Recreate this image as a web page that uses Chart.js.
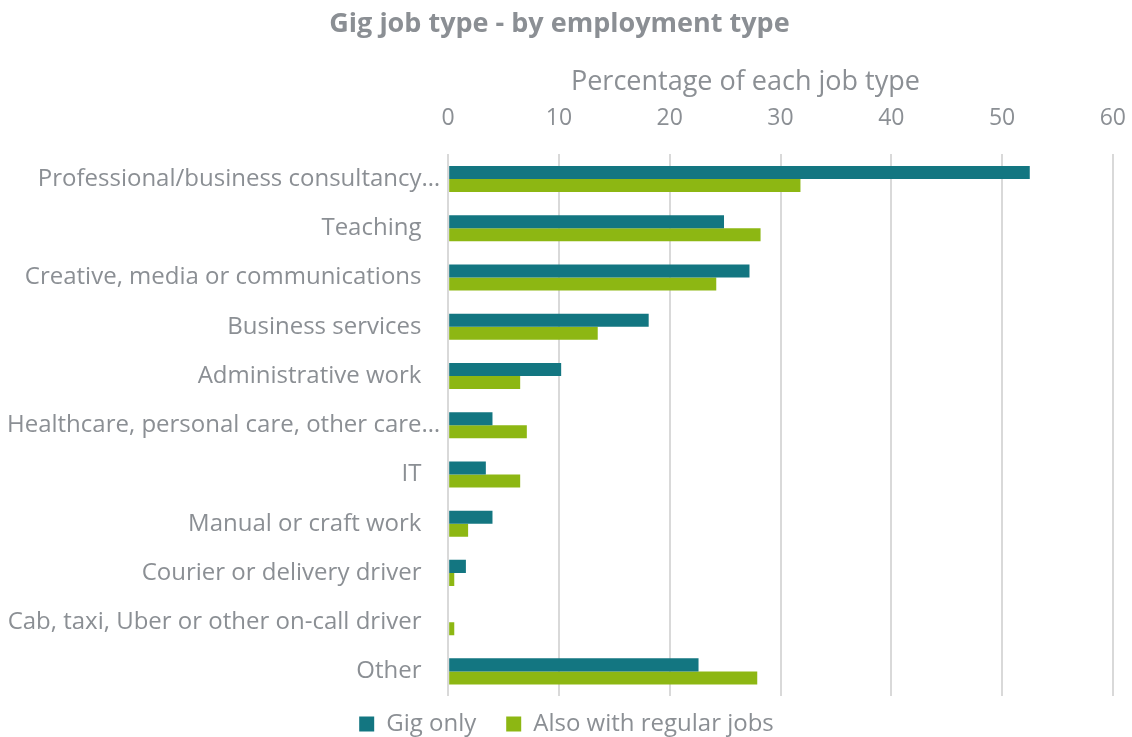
<!DOCTYPE html>
<html>
<head>
<meta charset="utf-8">
<script src="https://cdn.jsdelivr.net/npm/chart.js@4.4.1/dist/chart.umd.min.js"></script>
<style>
  html, body { margin: 0; padding: 0; background: #ffffff; overflow: hidden; }
  #wrap { width: 1132px; height: 737px; }
</style>
</head>
<body>
<div id="wrap"><canvas id="grafik" width="1132" height="737"></canvas></div>
<script>
const CATEGORIES = [
    'Professional/business consultancy…',
    'Teaching',
    'Creative, media or communications',
    'Business services',
    'Administrative work',
    'Healthcare, personal care, other care…',
    'IT',
    'Manual or craft work',
    'Courier or delivery driver',
    'Cab, taxi, Uber or other on-call driver',
    'Other'
];
const GIG_ONLY = [52.5, 24.9, 27.2, 18.1, 10.2, 4.0, 3.4, 4.0, 1.6, 0, 22.6];
const ALSO_REGULAR = [31.8, 28.2, 24.2, 13.5, 6.5, 7.1, 6.5, 1.8, 0.55, 0.55, 27.9];
const X_TICKS = [0, 10, 20, 30, 40, 50, 60];

const GREY = '#8b8f94';
const FONT = "'Open Sans', sans-serif";

// legend sits partly below the bottom edge in the original
const legendNudge = {
    id: 'legendNudge',
    afterLayout(chart) {
        const lg = chart.legend;
        if (!lg) return;
        lg.top -= 14;
        lg.bottom -= 14;
    }
};

function draw() {
    const ctx = document.getElementById('grafik').getContext('2d');

    new Chart(ctx, {
        type: 'bar',
        data: {
            labels: CATEGORIES,
            datasets: [
                {
                    label: 'Gig only',
                    data: GIG_ONLY,
                    backgroundColor: '#137681',
                    borderWidth: 0
                },
                {
                    label: 'Also with regular jobs',
                    data: ALSO_REGULAR,
                    backgroundColor: '#8db713',
                    borderWidth: 0
                }
            ]
        },
        plugins: [legendNudge],
        options: {
            indexAxis: 'y',
            responsive: false,
            animation: false,
            datasets: {
                bar: { categoryPercentage: 0.53, barPercentage: 1.0 }
            },
            layout: { padding: { left: 7, right: 6, top: 0, bottom: -23 } },
            plugins: {
                title: {
                    display: true,
                    text: 'Gig job type - by employment type' + '\u00a0\u00a0',
                    color: GREY,
                    font: { family: FONT, size: 27, weight: 'bold' },
                    padding: { top: 8, bottom: 14 }
                },
                legend: {
                    position: 'bottom',
                    labels: {
                        color: GREY,
                        font: { family: FONT, size: 24 },
                        boxWidth: 15,
                        boxHeight: 15,
                        padding: 30
                    }
                },
                tooltip: { enabled: false }
            },
            scales: {
                x: {
                    position: 'top',
                    min: 0,
                    max: 60,
                    afterBuildTicks: function(axis) {
                        axis.ticks = X_TICKS.map(v => ({ value: v }));
                    },
                    title: {
                        display: true,
                        // trailing spaces pull the centred title left, as in the original
                        text: 'Percentage of each job type' + '\u00a0'.repeat(10),
                        color: GREY,
                        font: { family: FONT, size: 27 },
                        padding: { top: 12, bottom: 0 }
                    },
                    ticks: {
                        color: GREY,
                        font: { family: FONT, size: 23 },
                        padding: 6
                    },
                    grid: {
                        color: '#d9d9d9',
                        lineWidth: 2,
                        drawTicks: true,
                        tickLength: 16,
                        tickColor: 'rgba(0,0,0,0)'
                    },
                    border: { display: false }
                },
                y: {
                    ticks: {
                        color: GREY,
                        font: { family: FONT, size: 24 },
                        padding: 0,
                        autoSkip: false,
                        callback: function(value) {
                            const lbl = this.getLabelForValue(value);
                            // truncated labels run closer to the axis
                            return lbl.endsWith('…') ? lbl : lbl + '\u00a0\u00a0\u00a0';
                        }
                    },
                    grid: { display: false },
                    border: { display: false }
                }
            }
        }
    });
}

Promise.all([
    document.fonts.load("24px 'Open Sans'"),
    document.fonts.load("bold 27px 'Open Sans'")
]).then(draw, draw);
</script>
</body>
</html>
